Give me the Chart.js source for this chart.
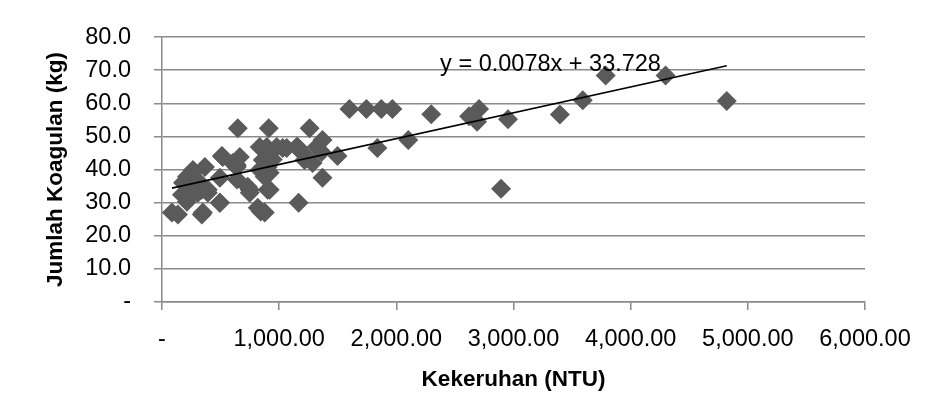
<!DOCTYPE html>
<html>
<head>
<meta charset="utf-8">
<script src="https://cdn.jsdelivr.net/npm/chart.js@4.4.1/dist/chart.umd.min.js"></script>
<style>
  html, body { margin: 0; padding: 0; background: #ffffff; }
  #wrap { width: 948px; height: 415px; }
</style>
</head>
<body>
<div id="wrap"><canvas id="c" width="948" height="415"></canvas></div>
<script>
// Kekeruhan (NTU)
const turbidity = [
  85, 136, 170, 179, 196, 213, 213, 221, 255, 264, 281, 306, 323, 340, 340, 349, 366, 391, 391,
  494, 494, 494, 511, 519, 604, 638, 638, 640, 647, 664, 732, 749, 749, 817, 834, 834, 843, 860,
  877, 877, 894, 902, 902, 911, 919, 919, 945, 979, 1030, 1064, 1149, 1157, 1166, 1200, 1217,
  1260, 1285, 1319, 1362, 1370, 1370, 1498, 1600, 1745, 1838, 1872, 1966, 2102, 2298, 2621,
  2689, 2706, 2894, 2953, 3396, 3591, 3787, 4298, 4820
];
// Jumlah Koagulan (kg)
const coagulant = [
  27.0, 26.4, 32.4, 36.0, 36.2, 37.8, 30.3, 31.7, 38.9, 39.9, 34.8, 33.0, 36.0, 33.9, 26.4, 27.0, 40.8, 33.0, 33.9,
  37.5, 30.0, 30.0, 44.1, 43.8, 42.0, 40.8, 41.4, 37.0, 52.5, 43.8, 34.8, 33.0, 33.9, 28.5, 46.8, 39.9, 27.3, 42.9,
  37.8, 27.0, 46.8, 33.9, 40.8, 52.5, 39.0, 33.9, 43.0, 46.8, 46.5, 46.5, 46.8, 46.8, 30.0, 45.0, 42.9,
  52.5, 42.0, 46.8, 45.3, 48.9, 37.5, 44.1, 58.3, 58.3, 46.5, 58.3, 58.3, 48.9, 56.7, 56.1,
  54.4, 58.3, 34.2, 55.2, 56.6, 60.9, 68.4, 68.4, 60.7
];
// Linear trendline: slope, intercept, and the x range it spans
const trendCoef = [0.0078, 33.728];
const trendRange = [85, 4820];
const trendLabel = "y = 0.0078x + 33.728";
const xTicks = [0, 1000, 2000, 3000, 4000, 5000, 6000];
const yTicks = [0, 10, 20, 30, 40, 50, 60, 70, 80];

const points = turbidity.map((x, i) => ({ x: x, y: coagulant[i] }));
const trendPts = trendRange.map(x => ({ x: x, y: trendCoef[0] * x + trendCoef[1] }));

const FONT = "'Liberation Sans', Arial, sans-serif";
const GRID = '#8a8a8a';

const labelPlugin = {
  id: 'trendLabel',
  afterDatasetsDraw(chart, args, opts) {
    const xs = chart.scales.x, ys = chart.scales.y;
    const ctx = chart.ctx;
    ctx.save();
    ctx.font = opts.font;
    ctx.fillStyle = '#000';
    ctx.textAlign = 'center';
    ctx.textBaseline = 'middle';
    ctx.fillText(trendLabel, xs.getPixelForValue(opts.at[0]), ys.getPixelForValue(opts.at[1]));
    ctx.restore();
  }
};

new Chart(document.getElementById('c'), {
  type: 'scatter',
  data: {
    datasets: [
      {
        data: points,
        pointStyle: 'rectRot',
        pointRadius: 10,
        pointBackgroundColor: '#5a5a5a',
        pointBorderColor: '#5a5a5a',
        pointBorderWidth: 0,
        showLine: false,
        order: 2
      },
      {
        data: trendPts,
        type: 'line',
        showLine: true,
        borderColor: '#000000',
        borderWidth: 1.6,
        pointRadius: 0,
        fill: false,
        order: 1
      }
    ]
  },
  plugins: [labelPlugin],
  options: {
    responsive: false,
    animation: false,
    events: [],
    layout: { padding: { top: 36, right: 83, left: 0, bottom: 0 } },
    plugins: {
      legend: { display: false },
      tooltip: { enabled: false },
      trendLabel: { at: [3316, 71.6], font: "23.5px " + FONT }
    },
    scales: {
      x: {
        type: 'linear',
        min: 0, max: 6000,
        afterBuildTicks: s => { s.ticks = xTicks.map(v => ({ value: v })); },
        afterFit: s => { s.height = 113; },
        grid: { display: true, drawOnChartArea: false, drawTicks: true, tickLength: 8, color: GRID, lineWidth: 1.5 },
        border: { display: true, color: GRID, width: 1.5 },
        ticks: {
          color: '#000',
          font: { family: FONT, size: 23.5 },
          padding: 15,
          maxRotation: 0,
          callback: v => v === 0 ? '-' : v.toLocaleString('en-US', { minimumFractionDigits: 2, maximumFractionDigits: 2 })
        },
        title: {
          display: true,
          text: 'Kekeruhan (NTU)',
          color: '#000',
          font: { family: FONT, size: 22.5, weight: 'bold' },
          padding: { top: 0, bottom: 22 }
        }
      },
      y: {
        type: 'linear',
        min: 0, max: 80,
        afterBuildTicks: s => { s.ticks = yTicks.map(v => ({ value: v })); },
        afterFit: s => { s.width = 162; },
        grid: { display: true, drawOnChartArea: true, drawTicks: true, tickLength: 8, color: GRID, lineWidth: 1.5 },
        border: { display: true, color: GRID, width: 1.5 },
        ticks: {
          color: '#000',
          font: { family: FONT, size: 23.5 },
          padding: 23,
          callback: v => v === 0 ? '-' : v.toFixed(1)
        },
        title: {
          display: true,
          text: 'Jumlah Koagulan (kg)',
          color: '#000',
          font: { family: FONT, size: 22.5, weight: 'bold' },
          padding: { top: 42, bottom: 0 }
        }
      }
    }
  }
});
</script>
</body>
</html>
